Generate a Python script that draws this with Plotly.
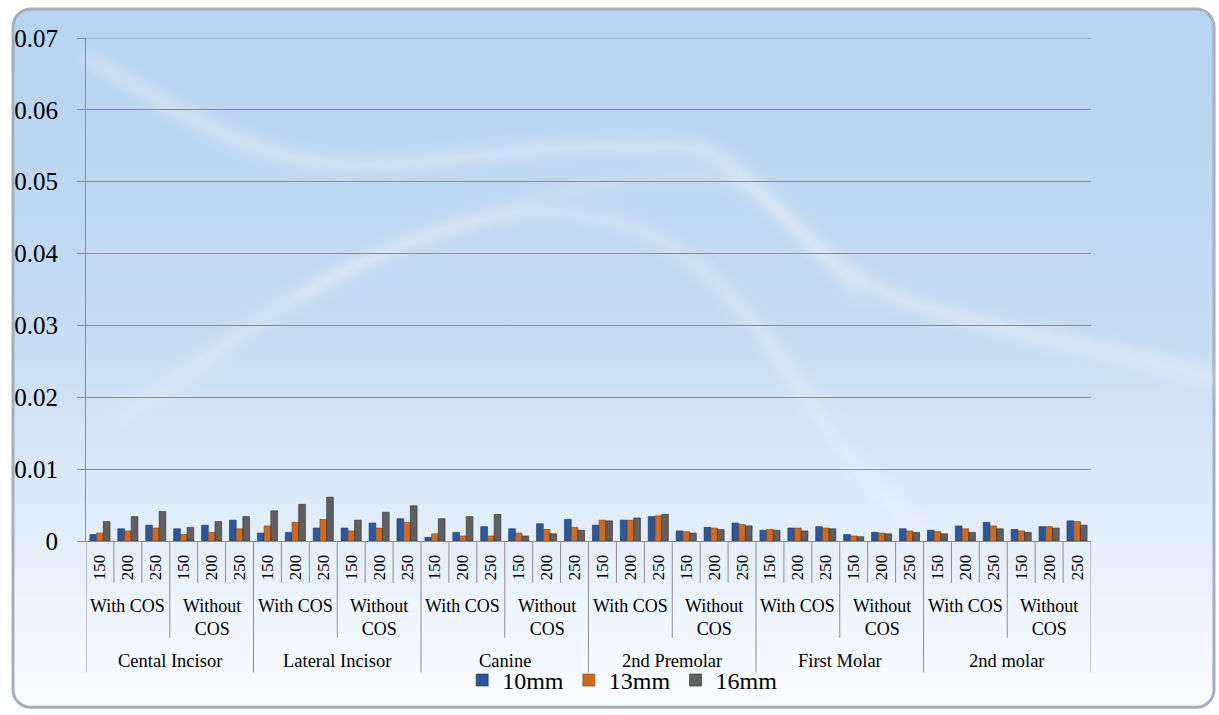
import base64
import plotly.graph_objects as go

teeth = ["Cental Incisor", "Lateral Incisor", "Canine", "2nd Premolar", "First Molar", "2nd molar"]
cos_groups = ["With COS", "Without<br>COS"]
loads = ["150", "200", "250"]
series_names = ["10mm", "13mm", "16mm"]

v10 = [0.0009, 0.0017, 0.0022, 0.0017, 0.0022, 0.0029,
       0.0011, 0.0012, 0.0018, 0.0018, 0.0025, 0.0031,
       0.0005, 0.0012, 0.0020, 0.0017, 0.0024, 0.0030,
       0.0022, 0.0029, 0.0034, 0.0014, 0.0019, 0.0025,
       0.0015, 0.0018, 0.0020, 0.0009, 0.0012, 0.0017,
       0.0015, 0.0021, 0.0026, 0.0016, 0.0020, 0.0028]
v13 = [0.0011, 0.0014, 0.0018, 0.0009, 0.0012, 0.0017,
       0.0021, 0.0026, 0.0030, 0.0014, 0.0018, 0.0026,
       0.0010, 0.0007, 0.0007, 0.0011, 0.0016, 0.0019,
       0.0029, 0.0029, 0.0035, 0.0013, 0.0018, 0.0023,
       0.0016, 0.0018, 0.0018, 0.0007, 0.0011, 0.0014,
       0.0013, 0.0017, 0.0021, 0.0014, 0.0020, 0.0027]
v16 = [0.0027, 0.0034, 0.0041, 0.0019, 0.0027, 0.0034,
       0.0042, 0.0051, 0.0061, 0.0029, 0.0040, 0.0049,
       0.0031, 0.0034, 0.0037, 0.0007, 0.0010, 0.0015,
       0.0028, 0.0032, 0.0037, 0.0011, 0.0016, 0.0021,
       0.0015, 0.0014, 0.0017, 0.0006, 0.0010, 0.0012,
       0.0010, 0.0012, 0.0017, 0.0012, 0.0018, 0.0022]
y_max = 0.07

W, H = 1219, 715
L, R, T, B = 86, 128, 38, 172
PW, PH = W - L - R, H - T - B
FONT = "Liberation Serif"

n = len(teeth) * len(cos_groups) * len(loads)
xs = list(range(n))
ticktext = [loads[i % len(loads)] for i in xs]

colors = ["#2b579c", "#d26a1e", "#606060"]
lines = ["#142f5c", "#7a3a0c", "#2a2a2a"]

fig = go.Figure()
for name, vals, c, lc in zip(series_names, [v10, v13, v16], colors, lines):
    fig.add_trace(go.Bar(x=xs, y=vals, name=name, marker=dict(color=c, line=dict(color=lc, width=0.6))))

# background svg (decoration)
svg = f'''<svg xmlns="http://www.w3.org/2000/svg" width="{W}" height="{H}" viewBox="0 0 {W} {H}">
<defs>
<linearGradient id="g" x1="0" y1="0" x2="0" y2="1">
<stop offset="0" stop-color="#b7d3ef"/>
<stop offset="0.45" stop-color="#c4dbf2"/>
<stop offset="0.75" stop-color="#e2eefa"/>
<stop offset="1" stop-color="#fbfdff"/>
</linearGradient>
<filter id="b" x="-10%" y="-10%" width="120%" height="120%"><feGaussianBlur stdDeviation="7"/></filter>
</defs>
<rect x="0" y="0" width="{W}" height="{H}" fill="#ffffff"/>
<rect x="13" y="9" width="1201" height="701" rx="18" ry="18" fill="url(#g)" stroke="#a4afbb" stroke-width="3"/>
<g filter="url(#b)" fill="none" stroke="#ffffff" stroke-linecap="round">
<path d="M90,60 C200,120 260,175 400,165 C520,150 640,140 700,150 C760,170 800,260 900,300 C1000,335 1120,350 1210,380" stroke-width="14" opacity="0.35"/>
<path d="M120,420 C220,360 330,240 520,215 C640,205 700,260 760,330 C820,420 860,480 920,530" stroke-width="12" opacity="0.3"/>
<path d="M300,300 C420,230 560,180 690,175 C760,175 800,230 860,300" stroke-width="8" opacity="0.25"/>
</g>
</svg>'''
src = "data:image/svg+xml;base64," + base64.b64encode(svg.encode()).decode()
fig.add_layout_image(dict(source=src, xref="paper", yref="paper", x=-L / PW, y=1 + T / PH,
                          sizex=W / PW, sizey=H / PH, sizing="stretch", xanchor="left", yanchor="top",
                          layer="below"))

gridc = "#8c8c8c"
# top gridline (plotly drops the one at the range edge)
fig.add_shape(type="line", xref="paper", yref="y", x0=-8 / PW, x1=1, y0=y_max, y1=y_max,
              line=dict(color=gridc, width=1))

# separators and group labels below the axis
d_load, d_cos, d_tooth = -42 / PH, -97 / PH, -132 / PH
for b in range(n + 1):
    xb = b - 0.5
    if b % 6 == 0:
        depth = d_tooth
    elif b % 3 == 0:
        depth = d_cos
    else:
        depth = d_load
    fig.add_shape(type="line", xref="x", yref="paper", x0=xb, x1=xb, y0=0, y1=depth,
                  line=dict(color=gridc, width=1))

for ti, tname in enumerate(teeth):
    for ci, cname in enumerate(cos_groups):
        xc = ti * 6 + ci * 3 + 1
        fig.add_annotation(x=xc, y=-53 / PH, xref="x", yref="paper", text=cname, showarrow=False,
                           yanchor="top", font=dict(family=FONT, size=18, color="#000"))
    fig.add_annotation(x=ti * 6 + 2.5, y=-120 / PH, xref="x", yref="paper", text=tname, showarrow=False,
                       yanchor="middle", font=dict(family=FONT, size=18.5, color="#000"))

fig.update_layout(
    width=W, height=H,
    margin=dict(l=L, r=R, t=T, b=B),
    paper_bgcolor="white", plot_bgcolor="rgba(0,0,0,0)",
    barmode="group", bargap=0.28, bargroupgap=0,
    font=dict(family=FONT, color="#000"),
    showlegend=True,
    legend=dict(orientation="h", x=0.534, xanchor="center", y=-140 / PH, yanchor="middle",
                font=dict(family=FONT, size=24, color="#000"), bgcolor="rgba(0,0,0,0)",
                itemwidth=30, tracegroupgap=0),
    xaxis=dict(range=[-0.5, n - 0.5], tickvals=xs, ticktext=ticktext, tickangle=-90,
               tickfont=dict(family=FONT, size=17, color="#000"), ticks="", showgrid=False,
               showline=True, linecolor=gridc, linewidth=1, zeroline=False, ticklabelstandoff=6),
    yaxis=dict(range=[0, y_max], dtick=0.01, tickformat="~g", showgrid=True, gridcolor=gridc, gridwidth=1,
               ticks="outside", ticklen=8, tickcolor=gridc, showline=True, linecolor=gridc, linewidth=1,
               zeroline=False, tickfont=dict(family=FONT, size=25, color="#000"), ticklabelstandoff=14),
)

fig.write_html("out.html")
